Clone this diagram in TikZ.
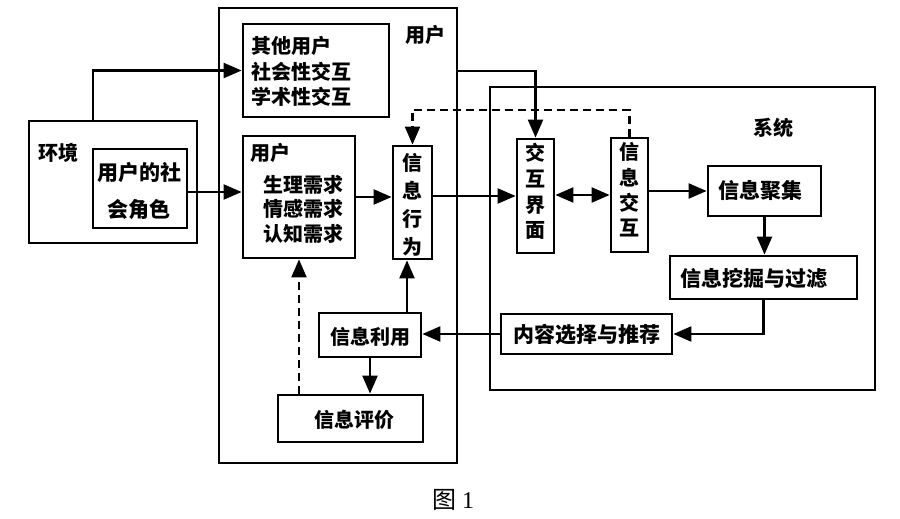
\documentclass[tikz,border=0pt]{standalone}
\usepackage{fontspec}
\setmainfont{Liberation Serif}
\newfontfamily\cjk{Noto Sans CJK SC}
\usetikzlibrary{arrows.meta}
\begin{document}
\begin{tikzpicture}[x=1pt,y=-1pt,
  box/.style={draw,line width=2.8pt,inner sep=0pt},
  txt/.style={inner sep=0pt,font=\cjk\bfseries\fontsize{20}{25}\selectfont},
  tip/.tip={Triangle[length=18pt,width=15pt]},
  arr/.style={line width=2.2pt,-tip},
  darr/.style={arr,dash pattern=on 8pt off 5pt},
  dbl/.style={line width=2.2pt,tip-tip}
]
\useasboundingbox[fill=white] (0,0) rectangle (900,519);
% boxes
\node[box,minimum width=238pt,minimum height=455pt] (user) at (338,235.5) {};
\node[box,minimum width=146pt,minimum height=93pt] (other) at (316,70.5) {};
\node[box,minimum width=168pt,minimum height=122pt] (env) at (113,182) {};
\node[box,minimum width=94pt,minimum height=79pt] (role) at (140,188.5) {};
\node[box,minimum width=112pt,minimum height=122pt] (needs) at (299,197) {};
\node[box,minimum width=39pt,minimum height=113pt] (beh) at (412.5,202.5) {};
\node[box,minimum width=385pt,minimum height=303pt] (sys) at (682.5,238.5) {};
\node[box,minimum width=37pt,minimum height=114pt] (ui) at (535.5,196) {};
\node[box,minimum width=37pt,minimum height=114pt] (inter) at (629.5,195) {};
\node[box,minimum width=113pt,minimum height=50pt] (gather) at (764.5,191) {};
\node[box,minimum width=187pt,minimum height=43pt] (mine) at (763.5,277.5) {};
\node[box,minimum width=171pt,minimum height=40pt] (rec) at (586.5,334) {};
\node[box,minimum width=102pt,minimum height=44pt] (use) at (370,335) {};
\node[box,minimum width=145pt,minimum height=47pt] (eval) at (350.5,418.5) {};
% texts
\node[txt] (tuser) at (425,35) {用户};
\node[txt,anchor=west,align=left,font=\cjk\bfseries\fontsize{20}{25.5}\selectfont] (tother) at (251,71.5) {其他用户\\社会性交互\\学术性交互};
\node[txt] (tenv) at (58,153) {环境};
\node[txt,align=center,font=\cjk\bfseries\fontsize{21}{37}\selectfont] (trole) at (139,191.5) {用户的社\\会角色};
\node[txt,anchor=west] (tneeds1) at (250,153) {用户};
\node[txt,anchor=west,align=left,font=\cjk\bfseries\fontsize{20}{24.5}\selectfont] (tneeds2) at (263,209) {生理需求\\情感需求\\认知需求};
\node[txt,align=center,font=\cjk\bfseries\fontsize{20}{28}\selectfont] (tbeh) at (412.5,205) {信\\息\\行\\为};
\node[txt,align=center,font=\cjk\bfseries\fontsize{20}{25.7}\selectfont] (tui) at (535.5,191.5) {交\\互\\界\\面};
\node[txt,align=center,font=\cjk\bfseries\fontsize{20}{25.3}\selectfont] (tinter) at (629.5,190) {信\\息\\交\\互};
\node[txt] (tsys) at (773,128) {系统};
\node[txt,font=\cjk\bfseries\fontsize{21}{25}\selectfont] (tgather) at (760,190) {信息聚集};
\node[txt,font=\cjk\bfseries\fontsize{21}{25}\selectfont] (tmine) at (754,279) {信息挖掘与过滤};
\node[txt,font=\cjk\bfseries\fontsize{21}{25}\selectfont] (trec) at (587,335) {内容选择与推荐};
\node[txt] (tuse) at (370,337) {信息利用};
\node[txt] (teval) at (354,420) {信息评价};
\node[inner sep=0pt,font=\fontsize{24}{28}\selectfont] (cap) at (453,500) {{\cjk 图}\ 1};
% helper coordinates
\coordinate (c93) at (93,72);
\coordinate (y71) at (0,71);
\coordinate (y192) at (0,192);
\coordinate (y110) at (0,110);
\coordinate (x407) at (407,0);
% connectors
\draw[arr] (c93 |- env.north) |- (other.west);
\draw[arr] (role.east |- y192) -- (needs.west |- y192);
\draw[arr] (needs.east) -- (needs.east -| beh.west);
\draw[arr] (beh.east |- ui.west) -- (ui.west);
\draw[arr] (user.east |- y71) -| (ui.north);
\draw[dbl] (ui.east |- inter.west) -- (inter.west);
\draw[darr] (inter.north) -- (inter.north |- y110) -| (beh.north);
\draw[arr] (inter.east |- gather.west) -- (gather.west);
\draw[arr] (gather.south) -- (gather.south |- mine.north);
\draw[arr] (mine.south) |- (rec.east);
\draw[arr] (rec.west) -- (rec.west -| use.east);
\draw[arr] (x407 |- use.north) -- (x407 |- beh.south);
\draw[arr] (use.south) -- (use.south |- eval.north);
\draw[darr] (needs.south |- eval.north) -- (needs.south);
\end{tikzpicture}
\end{document}
